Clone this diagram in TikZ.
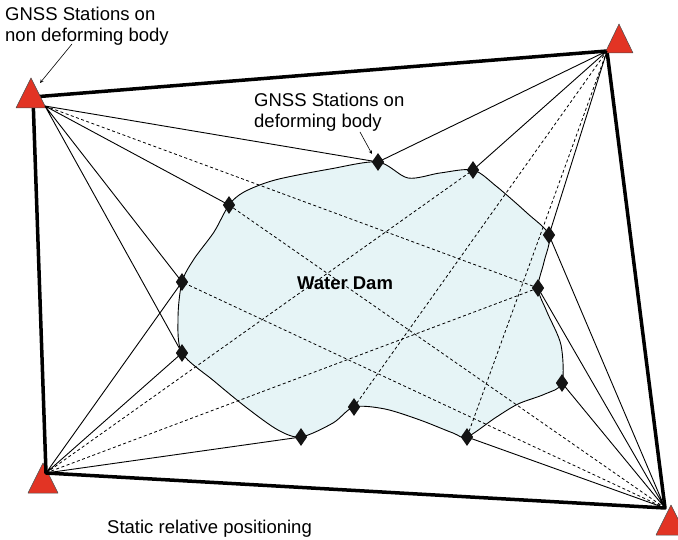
\documentclass[tikz,border=0pt]{standalone}
\usepackage{fontspec}
\setmainfont{Liberation Sans}
\usetikzlibrary{shapes.geometric,backgrounds}
\definecolor{stnred}{RGB}{226,52,36}
\definecolor{damblue}{RGB}{230,244,246}
\tikzset{
  frame/.style={line width=3.5pt,line join=round},
  solidln/.style={line width=0.9pt},
  dashln/.style={line width=0.8pt,dash pattern=on 3pt off 2.5pt},
  gnss/.style={diamond,fill=black!92,inner sep=0pt,minimum width=12.5pt,minimum height=18pt},
  stn/.style={fill=stnred,draw=black!70,line width=0.5pt,line join=round},
  lbl/.style={font=\fontsize{18.5}{21}\selectfont,inner sep=0pt,align=left},
  ptr/.style={->,>=stealth,line width=0.6pt}
}

\begin{document}
\begin{tikzpicture}[x=1pt,y=-1pt]
\useasboundingbox (0,0) rectangle (678,540);

% corner stations
\coordinate (tl) at (33,97);
\coordinate (tlh) at (45,106);
\coordinate (tr) at (607,51);
\coordinate (br) at (665,508);
\coordinate (bl) at (46,473);

% stations on the dam
\node[gnss] (d1) at (378,162) {};
\node[gnss] (d2) at (473,170) {};
\node[gnss] (d3) at (229,205) {};
\node[gnss] (d4) at (549,235) {};
\node[gnss] (d5) at (182,282) {};
\node[gnss] (d6) at (538,288) {};
\node[gnss] (d7) at (182,353) {};
\node[gnss] (d8) at (562,383) {};
\node[gnss] (d9) at (354,407) {};
\node[gnss] (d10) at (301,437) {};
\node[gnss] (d11) at (467,437) {};

\begin{scope}[on background layer]
% the dam
\draw[fill=damblue,line width=0.9pt] plot[smooth cycle,tension=0.5] coordinates {
  (d1.center) (408,178) (440,173) (d2.center) (496,186) (527,213) (d4.center)
  (544,262) (d6.center) (547,312) (561,345) (d8.center) (545,394) (518,404)
  (495,418) (d11.center) (453,433) (420,420) (385,409) (d9.center) (333,423)
  (d10.center) (278,430) (247,408) (214,381) (d7.center) (178,318)
  (d5.center) (194,259) (214,232) (d3.center) (244,192) (275,180) (330,169)};

\filldraw[stn] (43,463) -- (28,493) -- (58,493) -- cycle;
\filldraw[stn] (671,505) -- (656,535) -- (686,535) -- cycle;
\draw[frame] (tl) -- (tr) -- (br) -- (bl) -- cycle;
\filldraw[stn] (31,78) -- (16,108) -- (46,108) -- cycle;
\filldraw[stn] (619,24) -- (605,53) -- (633,53) -- cycle;

% baselines to near stations
\draw[solidln] (tlh) -- (d1.center) (tlh) -- (d3.center) (tlh) -- (d5.center) (tlh) -- (d7.center);
\draw[solidln] (tr) -- (d1.center) (tr) -- (d2.center) (tr) -- (d4.center);
\draw[solidln] (br) -- (d4.center) (br) -- (d6.center) (br) -- (d8.center) (br) -- (d11.center);
\draw[solidln] (bl) -- (d5.center) (bl) -- (d7.center) (bl) -- (d10.center);
% baselines across the dam
\draw[dashln] (tlh) -- (d6.center) (bl) -- (d6.center) (bl) -- (d2.center);
\draw[dashln] (br) -- (d3.center) (br) -- (d5.center);
\draw[dashln] (tr) -- (d9.center) (tr) -- (d11.center);
\end{scope}

% labels
\node[lbl,anchor=north west] (nondef) at (5,6.5) {GNSS Stations on\\non deforming body};
\node[lbl,anchor=north west] (def) at (254,92.5) {GNSS Stations on\\deforming body};
\node[lbl,font=\fontsize{18.5}{21}\selectfont\bfseries] (dam) at (345,283) {Water Dam};
\node[lbl,anchor=base west] (mode) at (107,533) {Static relative positioning};

\coordinate (a1s) at (72,44);
\coordinate (a1e) at (40,83);
\coordinate (a2s) at (360,132);
\coordinate (a2e) at (372,154);
\draw[ptr] (a1s) -- (a1e);
\draw[ptr] (a2s) -- (a2e);
\end{tikzpicture}
\end{document}
